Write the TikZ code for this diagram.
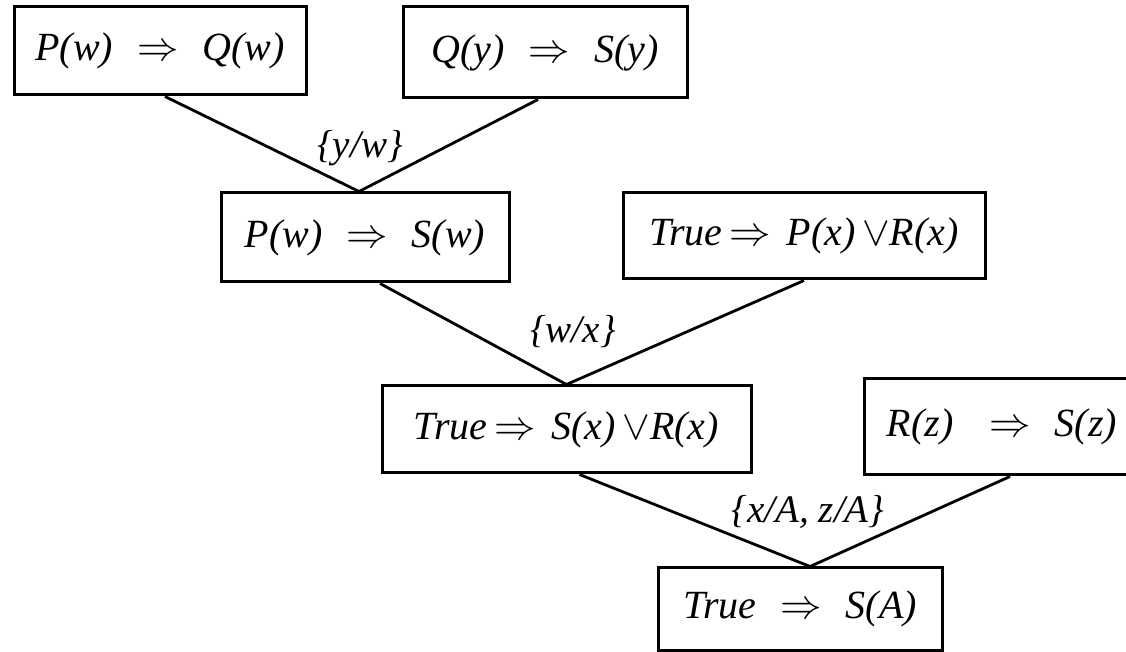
\documentclass[tikz,border=0pt]{standalone}
\usepackage{fontspec}
\setmainfont{Liberation Serif}
\usetikzlibrary{calc}

\tikzset{
  clause/.style={draw, line width=1.5pt, inner sep=0pt, font=\fontsize{20}{24}\selectfont\itshape},
  subst/.style={inner sep=0pt, font=\fontsize{19.5}{23}\selectfont\itshape},
  link/.style={line width=1.4pt}
}
\newcommand{\imp}{\hspace{0.6em}$\Rightarrow$\hspace{0.6em}}

\begin{document}
\begin{tikzpicture}[x=0.5pt,y=-0.5pt]
	\useasboundingbox (0,0) rectangle (1126,652);
	
	% Clauses
	\node[clause, minimum width=146pt, minimum height=44pt]   (pq) at (160,51)    {P(w)\imp Q(w)};
	\node[clause, minimum width=142pt, minimum height=45.5pt] (qs) at (545,52.5)  {Q(y)\imp S(y)};
	\node[clause, minimum width=144pt, minimum height=44.5pt] (ps) at (365,237.5) {P(w)\imp S(w)};
	\node[clause, minimum width=181pt, minimum height=43pt]   (tp) at (804,236)   {True\,$\Rightarrow$\hspace{0.4em}P(x)\,$\vee$R(x)};
	\node[clause, minimum width=184.5pt, minimum height=43.5pt] (ts) at (566.5,429.5) {True\,$\Rightarrow$\hspace{0.4em}S(x)\,$\vee$R(x)};
	\node[clause, minimum width=138pt, minimum height=48pt]   (rs) at (1002,427)  {R(z)\hspace{0.3em}\imp S(z)};
	\node[clause, minimum width=142pt, minimum height=41pt]   (sa) at (800,609)   {True\imp S(A)};
	
	% Resolution steps
	\draw[link] ($(pq.south)+(5,0)$) -- ($(ps.north)+(-6,0)$) -- ($(qs.south)+(-7,0)$);
	\draw[link] ($(ps.south)+(15,0)$) -- (ts.north) -- (tp.south);
	\draw[link] ($(ts.south)+(13,0)$) -- ($(sa.north)+(10,0)$) -- ($(rs.south)+(8,0)$);
	
	% Substitutions
	\node[subst] (u1) at (360,148) {\{y/w\}};
	\node[subst] (u2) at (573,332) {\{w/x\}};
	\node[subst] (u3) at (808,512) {\{x/A, z/A\}};
	
\end{tikzpicture}
\end{document}
